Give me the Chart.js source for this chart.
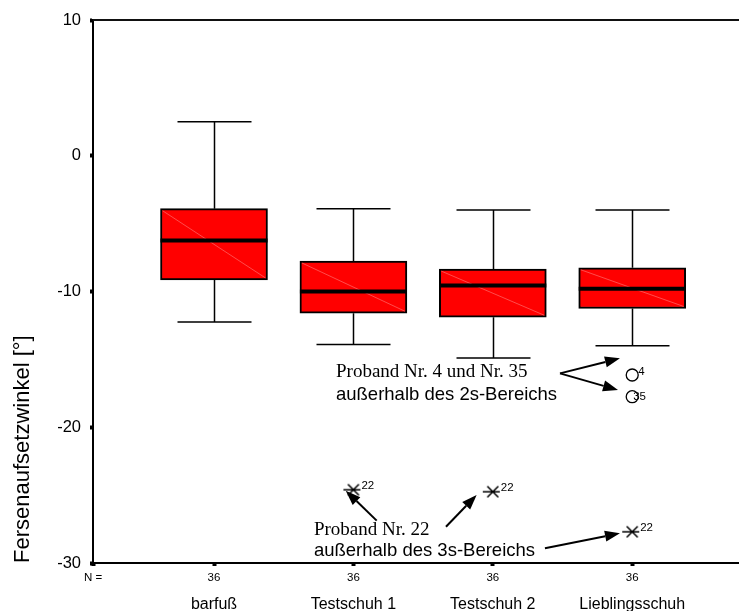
<!DOCTYPE html>
<html>
<head>
<meta charset="utf-8">
<script src="https://cdn.jsdelivr.net/npm/chart.js@4/dist/chart.umd.min.js"></script>
<style>
  html, body { margin: 0; padding: 0; background: #fff; }
</style>
</head>
<body>
<canvas id="boxChart" width="739" height="611"></canvas>
<script>
// categories and N per group
const groups = ['barfuß', 'Testschuh 1', 'Testschuh 2', 'Lieblingsschuh'];
const nCounts = [36, 36, 36, 36];

// box plot values
const whiskerHigh = [2.5, -3.9, -4.0, -4.0];
const boxTop = [-3.9, -7.75, -8.35, -8.25];
const medians = [-6.25, -10.0, -9.55, -9.8];
const boxBottom = [-9.15, -11.6, -11.9, -11.25];
const whiskerLow = [-12.25, -13.9, -14.9, -14.0];

// outliers (circles) and extremes (asterisks) with case numbers
const outlierGroup = [4, 4];
const outlierValue = [-16.15, -17.75];
const outlierCase = ['4', '35'];
const extremeGroup = [2, 3, 4];
const extremeValue = [-24.6, -24.75, -27.7];
const extremeCase = ['22', '22', '22'];

const yTicks = [10, 0, -10, -20, -30];

const xMin = 0.132;
const xMax = 4.766;

const SANS = '"Liberation Sans", Arial, sans-serif';
const SERIF = '"Liberation Serif", "Times New Roman", serif';

// annotation texts and arrows, in data coordinates
const notes = [
  { text: 'Proband Nr. 4 und Nr. 35', x: 1.875, y: -16.3, font: '19px ' + SERIF },
  { text: 'außerhalb des 2s-Bereichs', x: 1.875, y: -17.99, font: '18.5px ' + SANS },
  { text: 'Proband Nr. 22', x: 1.717, y: -27.94, font: '19px ' + SERIF },
  { text: 'außerhalb des 3s-Bereichs', x: 1.717, y: -29.48, font: '18.5px ' + SANS }
];
const arrows = [
  { from: [3.482, -16.03], to: [3.912, -14.92] },
  { from: [3.482, -16.03], to: [3.898, -17.26] },
  { from: [2.167, -26.88], to: [1.945, -24.67] },
  { from: [2.664, -27.33], to: [2.884, -24.99] },
  { from: [3.374, -28.92], to: [3.912, -27.81] }
];

function asteriskImage() {
  const c = document.createElement('canvas');
  c.width = 24; c.height = 16;
  const g = c.getContext('2d');
  g.strokeStyle = '#000';
  g.lineWidth = 1.5;
  g.beginPath();
  g.moveTo(2, 8); g.lineTo(19, 8);
  g.moveTo(6.5, 2.5); g.lineTo(17.5, 13.5);
  g.moveTo(17.5, 2.5); g.lineTo(6.5, 13.5);
  g.stroke();
  return c;
}

function drawArrow(ctx, x1, y1, x2, y2) {
  const head = 15, half = 5.5;
  const ang = Math.atan2(y2 - y1, x2 - x1);
  const bx = x2 - head * Math.cos(ang), by = y2 - head * Math.sin(ang);
  ctx.beginPath();
  ctx.moveTo(x1, y1);
  ctx.lineTo(bx, by);
  ctx.stroke();
  ctx.beginPath();
  ctx.moveTo(x2, y2);
  ctx.lineTo(bx + half * Math.sin(ang), by - half * Math.cos(ang));
  ctx.lineTo(bx - half * Math.sin(ang), by + half * Math.cos(ang));
  ctx.closePath();
  ctx.fill();
}

const boxPlotPlugin = {
  id: 'boxPlot',
  beforeDatasetsDraw(chart) {
    const { ctx, scales: { x, y } } = chart;
    ctx.save();
    ctx.strokeStyle = '#000';
    ctx.lineWidth = 1.5;
    groups.forEach((g, i) => {
      const cx = Math.round(x.getPixelForValue(i + 1)) + 0.5;
      const cap = 37;
      ctx.beginPath();
      ctx.moveTo(cx, y.getPixelForValue(whiskerHigh[i]));
      ctx.lineTo(cx, y.getPixelForValue(boxTop[i]));
      ctx.moveTo(cx, y.getPixelForValue(boxBottom[i]));
      ctx.lineTo(cx, y.getPixelForValue(whiskerLow[i]));
      ctx.moveTo(cx - cap, y.getPixelForValue(whiskerHigh[i]));
      ctx.lineTo(cx + cap, y.getPixelForValue(whiskerHigh[i]));
      ctx.moveTo(cx - cap, y.getPixelForValue(whiskerLow[i]));
      ctx.lineTo(cx + cap, y.getPixelForValue(whiskerLow[i]));
      ctx.stroke();
    });
    ctx.restore();
  },
  afterDatasetsDraw(chart) {
    const { ctx, scales: { x, y }, chartArea } = chart;
    const meta = chart.getDatasetMeta(0);
    ctx.save();
    // faint diagonal in the fill and the median line
    meta.data.forEach((bar, i) => {
      const half = bar.width / 2;
      const top = y.getPixelForValue(boxTop[i]);
      const bot = y.getPixelForValue(boxBottom[i]);
      ctx.strokeStyle = 'rgba(255,140,140,0.9)';
      ctx.lineWidth = 0.6;
      ctx.beginPath();
      ctx.moveTo(bar.x - half + 2, top + 2);
      ctx.lineTo(bar.x + half - 2, bot - 2);
      ctx.stroke();
      ctx.strokeStyle = '#000';
      ctx.lineWidth = 4;
      const my = y.getPixelForValue(medians[i]);
      ctx.beginPath();
      ctx.moveTo(bar.x - half, my);
      ctx.lineTo(bar.x + half, my);
      ctx.stroke();
    });

    // case number labels
    ctx.fillStyle = '#000';
    ctx.font = '11.5px ' + SANS;
    ctx.textAlign = 'left';
    ctx.textBaseline = 'middle';
    outlierCase.forEach((c, i) => {
      const px = x.getPixelForValue(outlierGroup[i]);
      const py = y.getPixelForValue(outlierValue[i]);
      ctx.fillText(c, px + (c.length > 1 ? 1 : 6), py + (c.length > 1 ? 0 : -3));
    });
    extremeCase.forEach((c, i) => {
      const px = x.getPixelForValue(extremeGroup[i]);
      const py = y.getPixelForValue(extremeValue[i]);
      ctx.fillText(c, px + 8, py - 4);
    });

    // annotations
    ctx.textBaseline = 'alphabetic';
    notes.forEach(n => {
      ctx.font = n.font;
      ctx.fillText(n.text, x.getPixelForValue(n.x), y.getPixelForValue(n.y));
    });
    ctx.lineWidth = 2;
    ctx.strokeStyle = '#000';
    arrows.forEach(a => {
      drawArrow(ctx,
        x.getPixelForValue(a.from[0]), y.getPixelForValue(a.from[1]),
        x.getPixelForValue(a.to[0]), y.getPixelForValue(a.to[1]));
    });

    // top frame line
    ctx.strokeStyle = '#111';
    ctx.lineWidth = 2;
    ctx.beginPath();
    ctx.moveTo(chartArea.left, chartArea.top);
    ctx.lineTo(chart.width, chartArea.top);
    ctx.stroke();
    ctx.restore();
  }
};

const data = {
  datasets: [
    {
      type: 'bar',
      label: 'Box',
      data: groups.map((g, i) => ({ x: i + 1, y: [boxBottom[i], boxTop[i]] })),
      backgroundColor: '#ff0000',
      borderColor: '#000',
      borderWidth: 2,
      borderSkipped: false,
      barThickness: 107
    },
    {
      type: 'scatter',
      label: 'Ausreißer',
      data: outlierGroup.map((g, i) => ({ x: g, y: outlierValue[i] })),
      pointStyle: 'circle',
      pointRadius: 6,
      backgroundColor: '#fff',
      borderColor: '#000',
      borderWidth: 1.3
    },
    {
      type: 'scatter',
      label: 'Extremwerte',
      data: extremeGroup.map((g, i) => ({ x: g, y: extremeValue[i] })),
      pointStyle: asteriskImage()
    }
  ]
};

const noSidePadding = s => { s.paddingLeft = 0; s.paddingRight = 0; };

const config = {
  type: 'bar',
  data: data,
  options: {
    responsive: false,
    animation: false,
    layout: { autoPadding: false, padding: { top: 20, right: 0, left: 0, bottom: 0 } },
    plugins: { legend: { display: false }, tooltip: { enabled: false } },
    scales: {
      x: {
        type: 'linear',
        position: 'bottom',
        offset: false,
        min: xMin,
        max: xMax,
        afterBuildTicks: s => { s.ticks = [xMin, 1, 2, 3, 4].map(v => ({ value: v })); },
        ticks: {
          callback: (v, i) => (i === 0 ? 'N =' : String(nCounts[i - 1])),
          font: { family: SANS, size: 11.5 },
          color: '#000',
          padding: 5,
          maxRotation: 0,
          autoSkip: false
        },
        grid: { offset: false, drawOnChartArea: false, tickLength: 3, tickWidth: 4, tickColor: '#000' },
        border: { color: '#000', width: 2 },
        afterFit: s => { s.height = 22; noSidePadding(s); }
      },
      x2: {
        type: 'linear',
        position: 'bottom',
        offset: false,
        min: xMin,
        max: xMax,
        afterBuildTicks: s => { s.ticks = groups.map((g, i) => ({ value: i + 1 })); },
        ticks: {
          callback: (v, i) => groups[i],
          font: { family: SANS, size: 16 },
          color: '#000',
          padding: 2,
          maxRotation: 0,
          autoSkip: false
        },
        grid: { display: false, offset: false },
        border: { display: false },
        afterFit: s => { s.height = 26; noSidePadding(s); }
      },
      y: {
        min: -30,
        max: 10,
        afterBuildTicks: s => { s.ticks = yTicks.map(v => ({ value: v })); },
        ticks: { font: { family: SANS, size: 16.5 }, color: '#000', padding: 9 },
        grid: { drawOnChartArea: false, tickLength: 3, tickWidth: 4, tickColor: '#000' },
        border: { color: '#000', width: 2 },
        title: {
          display: true,
          text: 'Fersenaufsetzwinkel [°]',
          align: 'start',
          font: { family: SANS, size: 22 },
          color: '#000',
          padding: { top: 10, bottom: 0 }
        },
        afterFit: s => { s.width = 93; }
      }
    }
  },
  plugins: [boxPlotPlugin]
};

const boxChart = new Chart(document.getElementById('boxChart'), config);
</script>
</body>
</html>
